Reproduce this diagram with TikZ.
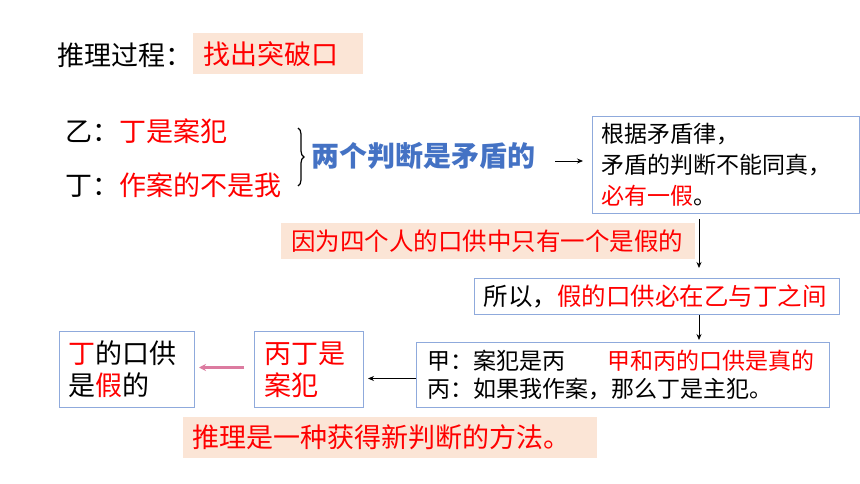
\documentclass[tikz,border=0pt]{standalone}
\usepackage{fontspec}
\setmainfont{Noto Sans CJK SC}
\usetikzlibrary{arrows.meta,decorations.pathreplacing}
\definecolor{peach}{HTML}{FBE5D6}
\definecolor{bord}{HTML}{8FAADC}
\definecolor{blu}{HTML}{4472C4}
\definecolor{rd}{HTML}{FF0000}
\definecolor{pinkar}{HTML}{DC7BA0}
\begin{document}
\begin{tikzpicture}[x=1pt,y=-1pt,
  big/.style={font=\fontsize{27}{32}\selectfont},
  mid/.style={font=\fontsize{24.5}{30}\selectfont},
  small/.style={font=\fontsize{23}{31}\selectfont},
  box/.style={draw=bord, line width=1pt, fill=white, inner ysep=0pt, anchor=north west, align=left},
  hl/.style={fill=peach, inner ysep=0pt, anchor=north west, align=left},
  plain/.style={inner sep=0pt, anchor=west},
  arr/.style={-{Stealth[length=6pt,width=5pt]}, line width=0.8pt},
  pinkarr/.style={-{Stealth[length=7pt,width=7pt]}, line width=2.2pt, draw=pinkar}]
\fill[white] (0,0) rectangle (860,484);
\useasboundingbox (0,0) rectangle (860,484);

\node[plain, big] (title) at (57,55) {推理过程：};
\node[hl, big, text=rd, inner xsep=10pt, text width=150pt, minimum height=41pt] (key) at (193,33) {找出突破口};

\node[plain, big] (yi) at (65,131) {乙：\textcolor{rd}{丁是案犯}};
\node[plain, big] (ding) at (65,185) {丁：\textcolor{rd}{作案的不是我}};
\draw[decorate, decoration={brace, amplitude=6pt}, line width=1.2pt] (298,128) -- (298,186);
\node[plain, font=\fontsize{28}{32}\selectfont\bfseries, text=blu] (contra) at (311,156) {两个判断是矛盾的};

\node[box, small, inner xsep=9pt, text width=249pt, minimum height=97pt] (b1) at (592,116)
  {根据矛盾律，\\矛盾的判断不能同真，\\\textcolor{rd}{必有一假}。};
\draw[arr, shorten <=20pt, shorten >=9pt] ([yshift=-5pt]contra.east) -- ([yshift=-5pt]contra.east -| b1.west);

\node[hl, mid, text=rd, inner xsep=10pt, text width=394pt, minimum height=36pt] (why) at (281,223) {因为四个人的口供中只有一个是假的};

\node[box, mid, inner xsep=9pt, text width=347pt, minimum height=36pt] (b2) at (474,278)
  {所以，\textcolor{rd}{假的口供必在乙与丁之间}};
\coordinate (vx) at (699,0);
\draw[arr, shorten <=5pt, shorten >=10pt] (b1.south -| vx) -- (b2.north -| vx);

\node[box, font=\fontsize{23}{28}\selectfont, inner xsep=11pt, text width=391pt, minimum height=65pt] (b3) at (416,342)
  {甲：案犯是丙\hspace{42pt}\textcolor{rd}{甲和丙的口供是真的}\\丙：如果我作案，那么丁是主犯。};
\draw[arr, shorten >=2pt] (b2.south -| vx) -- (b3.north -| vx);

\node[box, big, text=rd, inner xsep=10pt, text width=89pt, minimum height=76pt] (b4) at (254,331)
  {丙丁是\\案犯};
\draw[arr, shorten >=4pt] ([yshift=-3.5pt]b3.west) -- ([yshift=-3.5pt]b3.west -| b4.east);

\node[box, big, inner xsep=9pt, text width=117pt, minimum height=76pt] (b5) at (59,331)
  {\textcolor{rd}{丁}的口供\\是\textcolor{rd}{假}的};
\draw[pinkarr, shorten <=10pt, shorten >=4pt] ([yshift=2pt]b4.west) -- ([yshift=2pt]b4.west -| b5.east);

\node[hl, big, text=rd, inner xsep=9pt, text width=396pt, minimum height=41pt] (lesson) at (183,417) {推理是一种获得新判断的方法。};
\end{tikzpicture}
\end{document}
